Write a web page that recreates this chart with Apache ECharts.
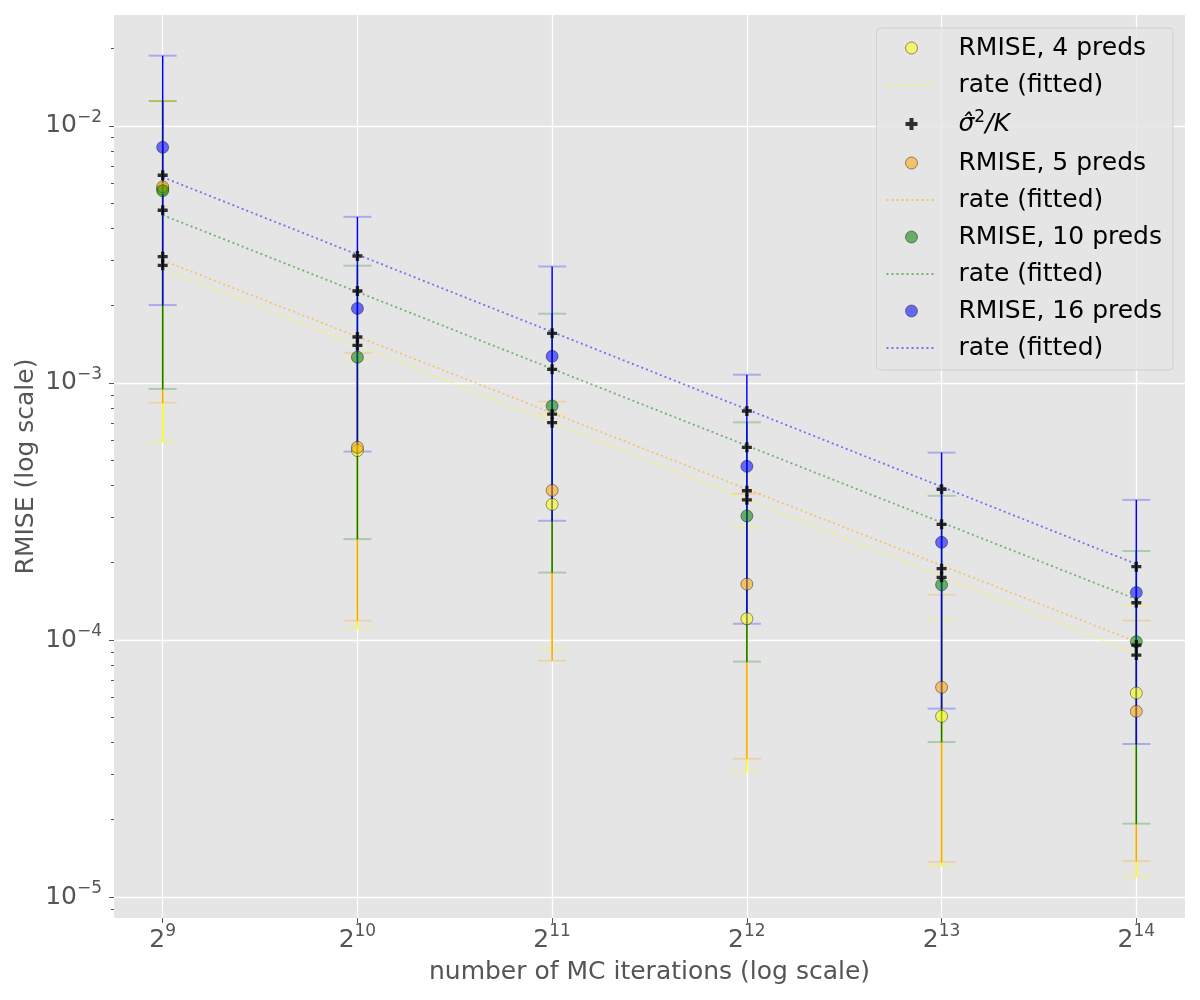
<!DOCTYPE html>
<html>
<head>
<meta charset="utf-8">
<title>RMISE vs MC iterations</title>
<script src="https://cdn.jsdelivr.net/npm/echarts@6/dist/echarts.min.js"></script>
<style>
  html, body { margin: 0; padding: 0; background: #fff; }
  #chart { width: 1200px; height: 1000px; }
</style>
</head>
<body>
<div id="chart"></div>
<script>
// x: number of MC iterations
var iters = [512, 1024, 2048, 4096, 8192, 16384];
var xTicks = [512, 1024, 2048, 4096, 8192, 16384];
var yTicks = [1e-5, 1e-4, 1e-3, 1e-2];

// RMISE (circles)
var rmise4 = [0.0057, 0.000546, 0.000337, 0.000121, 0.0000505, 0.0000622];
var rmise5 = [0.0058, 0.000562, 0.000382, 0.000165, 0.0000655, 0.0000528];
var rmise10 = [0.0056, 0.00126, 0.000814, 0.000304, 0.000164, 0.0000985];
var rmise16 = [0.00826, 0.00195, 0.00127, 0.000474, 0.00024, 0.000153];

// error bar ends
var hi4 = [0.0125, 0.00123, 0.000755, 0.000274, 0.00012, 0.000137];
var lo4 = [0.000589, 0.000111, 0.0000917, 0.0000307, 0.0000132, 0.000012];
var hi5 = [0.0125, 0.00131, 0.000846, 0.000371, 0.00015, 0.000119];
var lo5 = [0.000838, 0.000119, 0.0000831, 0.0000345, 0.0000137, 0.0000138];
var hi10 = [0.0125, 0.00286, 0.00186, 0.000703, 0.000364, 0.000222];
var lo10 = [0.000948, 0.000247, 0.000183, 0.0000824, 0.0000401, 0.0000193];
var hi16 = [0.01877, 0.00443, 0.00284, 0.001077, 0.000536, 0.000351];
var lo16 = [0.00201, 0.000541, 0.000291, 0.0001157, 0.0000541, 0.0000394];

// sigma^2 / K (plus markers)
var sigma4 = [0.00287, 0.0014, 0.000701, 0.000351, 0.0001754, 0.0000874];
var sigma5 = [0.0031, 0.00151, 0.000757, 0.000381, 0.0001895, 0.0000956];
var sigma10 = [0.0047, 0.00228, 0.00113, 0.000562, 0.000282, 0.0001397];
var sigma16 = [0.00643, 0.00312, 0.00156, 0.000778, 0.000386, 0.000193];

// fitted rate lines, value at first and last iteration count
var fitX = [512, 16384];
var fit4 = [0.00279, 0.0000889];
var fit5 = [0.0030, 0.0000985];
var fit10 = [0.0045, 0.000144];
var fit16 = [0.00632, 0.0001975];

var groups = [
  { n: 4, rmise: rmise4, hi: hi4, lo: lo4, fit: fit4, rgb: '255,255,0' },
  { n: 5, rmise: rmise5, hi: hi5, lo: lo5, fit: fit5, rgb: '255,165,0' },
  { n: 10, rmise: rmise10, hi: hi10, lo: lo10, fit: fit10, rgb: '0,128,0' },
  { n: 16, rmise: rmise16, hi: hi16, lo: lo16, fit: fit16, rgb: '0,0,255' }
];

var font = 'DejaVu Sans';
var chart = echarts.init(document.getElementById('chart'));

function pair(xs, ys) {
  return xs.map(function (x, i) { return [x, ys[i]]; });
}

function supLabel(base, exp) {
  var e = String(exp).replace('-', '\u2212');
  return '{b|' + base + '}{s|' + e + '}';
}

var supRich = {
  b: { fontSize: 25, lineHeight: 34, color: '#555', fontFamily: font },
  s: { fontSize: 17, lineHeight: 17, verticalAlign: 'top', color: '#555', fontFamily: font }
};

// minor ticks on y (2..9 per decade)
var minorY = [];
for (var d = -6; d <= -2; d++) {
  for (var k = 2; k <= 9; k++) {
    var v = k * Math.pow(10, d);
    if (v > 8.29e-6 && v < 0.027) minorY.push(v);
  }
}

var series = [];
groups.forEach(function (g) {
  series.push({
    type: 'custom',
    name: 'err' + g.n,
    z: 2,
    data: iters.map(function (x, i) { return [x, g.lo[i], g.hi[i]]; }),
    encode: { x: 0, y: [1, 2] },
    renderItem: function (params, api) {
      var top = api.coord([api.value(0), api.value(2)]);
      var bot = api.coord([api.value(0), api.value(1)]);
      var cap = 14;
      var capStyle = { stroke: 'rgba(' + g.rgb + ',0.25)', lineWidth: 2 };
      return {
        type: 'group',
        children: [
          { type: 'line', shape: { x1: top[0], y1: top[1], x2: bot[0], y2: bot[1] },
            style: { stroke: 'rgb(' + g.rgb + ')', lineWidth: 1.5 } },
          { type: 'line', shape: { x1: top[0] - cap, y1: top[1], x2: top[0] + cap, y2: top[1] }, style: capStyle },
          { type: 'line', shape: { x1: bot[0] - cap, y1: bot[1], x2: bot[0] + cap, y2: bot[1] }, style: capStyle }
        ]
      };
    }
  });
  series.push({
    type: 'scatter',
    name: 'RMISE, ' + g.n + ' preds',
    z: 2,
    symbol: 'circle',
    symbolSize: 12,
    itemStyle: { color: 'rgba(' + g.rgb + ',0.55)', borderColor: 'rgba(0,0,0,0.4)', borderWidth: 1, opacity: 1 },
    data: pair(iters, g.rmise)
  });
  series.push({
    type: 'line',
    name: 'rate' + g.n,
    z: 3,
    symbol: 'none',
    lineStyle: { color: 'rgba(' + g.rgb + ',0.5)', width: 1.8, type: [2, 3] },
    itemStyle: { color: 'rgba(' + g.rgb + ',0.5)' },
    data: pair(fitX, g.fit)
  });
});

var sigmaData = [].concat(pair(iters, sigma4), pair(iters, sigma5), pair(iters, sigma10), pair(iters, sigma16));
series.push({
  type: 'scatter',
  name: 'sigma',
  z: 4,
  symbol: 'path://M3,0H6V3H9V6H6V9H3V6H0V3H3Z',
  symbolSize: 10,
  symbolKeepAspect: true,
  itemStyle: { color: '#000' },
  data: sigmaData
});

var hideDot = { opacity: 0 };

var option = {
  backgroundColor: '#fff',
  animation: false,
  grid: {
    left: 114, right: 15, top: 15, bottom: 82,
    show: true, backgroundColor: '#e5e5e5', borderWidth: 0
  },
  legend: {
    orient: 'vertical',
    right: 27,
    top: 28,
    padding: [7, 11, 9, 9],
    itemWidth: 50,
    itemHeight: 12,
    itemGap: 11,
    backgroundColor: 'rgba(229,229,229,0.8)',
    borderColor: 'rgba(204,204,204,0.8)',
    borderWidth: 1,
    borderRadius: 4,
    selectedMode: false,
    itemStyle: { borderWidth: 1 },
    data: [
      { name: 'RMISE, 4 preds' },
      { name: 'rate4', itemStyle: hideDot },
      { name: 'sigma' },
      { name: 'RMISE, 5 preds' },
      { name: 'rate5', itemStyle: hideDot },
      { name: 'RMISE, 10 preds' },
      { name: 'rate10', itemStyle: hideDot },
      { name: 'RMISE, 16 preds' },
      { name: 'rate16', itemStyle: hideDot }
    ],
    formatter: function (name) {
      if (name.indexOf('rate') === 0) return 'rate (fitted)';
      if (name === 'sigma') return '{i|\u03C3\u0302}{s|2}{i|/K}';
      return name;
    },
    textStyle: {
      fontFamily: font,
      fontSize: 25,
      lineHeight: 26,
      color: '#000',
      padding: [0, 0, 0, 17],
      rich: {
        i: { fontFamily: font, fontSize: 25, fontStyle: 'italic', color: '#000', lineHeight: 30 },
        s: { fontFamily: font, fontSize: 17, color: '#000', lineHeight: 17, verticalAlign: 'top' }
      }
    }
  },
  xAxis: {
    type: 'log',
    logBase: 2,
    min: Math.pow(2, 8.75),
    max: Math.pow(2, 14.25),
    name: 'number of MC iterations (log scale)',
    nameLocation: 'middle',
    nameGap: 42,
    nameTextStyle: { fontFamily: font, fontSize: 25, color: '#555' },
    axisLine: { show: false },
    axisTick: { show: true, length: 5, lineStyle: { color: '#555' }, customValues: xTicks },
    axisLabel: {
      customValues: xTicks,
      margin: 5,
      formatter: function (v) { return supLabel(2, Math.round(Math.log2(v))); },
      rich: supRich
    },
    splitLine: { show: true, lineStyle: { color: '#fff', width: 1.3 } }
  },
  yAxis: [{
    type: 'log',
    logBase: 10,
    min: 8.29e-6,
    max: 0.02702,
    name: 'RMISE (log scale)',
    nameLocation: 'middle',
    nameGap: 75,
    nameMoveOverlap: false,
    nameTextStyle: { fontFamily: font, fontSize: 25, color: '#555' },
    axisLine: { show: false },
    axisTick: { show: true, length: 5, lineStyle: { color: '#555' }, customValues: yTicks },
    axisLabel: {
      customValues: yTicks,
      margin: 12,
      formatter: function (v) { return supLabel(10, Math.round(Math.log10(v))); },
      rich: supRich
    },
    splitLine: { show: true, lineStyle: { color: '#fff', width: 1.3 } }
  }, {
    type: 'log',
    logBase: 10,
    min: 8.29e-6,
    max: 0.02702,
    position: 'left',
    axisLine: { show: false },
    axisTick: { show: true, length: 3, lineStyle: { color: '#555' }, customValues: minorY },
    axisLabel: { show: false },
    splitLine: { show: false }
  }],
  series: series
};

chart.setOption(option);
</script>
</body>
</html>
